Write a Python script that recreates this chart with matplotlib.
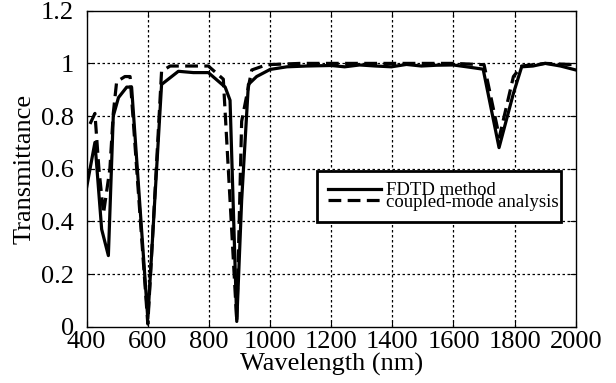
import numpy as np
import matplotlib.pyplot as plt

plt.rcParams['font.family'] = ['Liberation Serif', 'DejaVu Serif']

# FDTD method (solid)
wl_fdtd = [400, 427, 449, 471, 487, 504, 531, 547, 600, 645, 700, 749, 798, 853, 869,
           891, 907, 929, 956, 1000, 1055, 1120, 1200, 1244, 1293, 1345, 1397, 1446,
           1495, 1545, 1599, 1643, 1697, 1749, 1796, 1823, 1860, 1900, 1950, 2000]
t_fdtd = [0.53, 0.70, 0.37, 0.27, 0.80, 0.87, 0.91, 0.91, 0.03, 0.92, 0.97, 0.965, 0.965,
          0.91, 0.86, 0.02, 0.48, 0.92, 0.95, 0.977, 0.987, 0.99, 0.992, 0.987, 0.994,
          0.99, 0.987, 0.996, 0.99, 0.993, 0.994, 0.987, 0.978, 0.68, 0.886, 0.987,
          0.99, 1.0, 0.99, 0.975]

# coupled-mode analysis (dashed)
wl_cm = [411, 427, 440, 455, 476, 487, 498, 525, 542, 600, 645, 673, 720, 798, 847,
         891, 907, 940, 989, 1100, 1200, 1300, 1400, 1500, 1600, 1700, 1750, 1796,
         1823, 1900, 2000]
t_cm = [0.77, 0.81, 0.60, 0.43, 0.60, 0.81, 0.93, 0.95, 0.95, 0.01, 0.97, 0.99, 0.99,
        0.99, 0.94, 0.02, 0.78, 0.975, 0.995, 1.0, 1.0, 1.0, 1.0, 1.0, 1.0, 0.995,
        0.72, 0.95, 0.99, 1.0, 0.995]

xticks = [400, 600, 800, 1000, 1200, 1400, 1600, 1800, 2000]
yticks = [0, 0.2, 0.4, 0.6, 0.8, 1.0, 1.2]
ytick_labels = ['0', '0.2', '0.4', '0.6', '0.8', '1', '1.2']

fig = plt.figure(figsize=(6.16, 3.83), dpi=100)
ax = fig.add_axes([0.1407, 0.147, 0.794, 0.825])

ax.plot(wl_fdtd, t_fdtd, color='black', lw=2.3, label='FDTD method', zorder=3)
ax.plot(wl_cm, t_cm, color='black', lw=2.3, ls=(0, (4, 2)), label='coupled-mode analysis', zorder=3)

ax.set_xlim(400, 2000)
ax.set_ylim(0, 1.2)
ax.set_xticks(xticks)
ax.set_yticks(yticks)
ax.set_yticklabels(ytick_labels)
ax.tick_params(direction='in', length=4, labelsize=19, top=True, right=True)
ax.tick_params(axis='x', pad=3)
ax.tick_params(axis='y', pad=9)
for s in ax.spines.values():
    s.set_linewidth(1.0)

# dotted grid
for xv in xticks[1:-1]:
    ax.axvline(xv, color='black', linestyle=(0, (2, 2)), linewidth=0.9, zorder=1)
for yv in yticks[1:-1]:
    ax.axhline(yv, color='black', linestyle=(0, (2, 2)), linewidth=0.9, zorder=1)

ax.set_xlabel('Wavelength (nm)', fontsize=19, labelpad=0)
ax.set_ylabel('Transmittance', fontsize=19, labelpad=4)

leg = ax.legend(loc='lower left', bbox_to_anchor=(0.471, 0.331, 0.499, 0.158),
                mode='expand', fontsize=13.5, frameon=True, fancybox=False,
                edgecolor='black', framealpha=1, labelspacing=-0.3,
                handlelength=2.8, handletextpad=0.3, borderpad=0.6, borderaxespad=0)
leg.get_frame().set_linewidth(2)
leg.set_zorder(5)

fig.savefig('out.png', dpi=100)
